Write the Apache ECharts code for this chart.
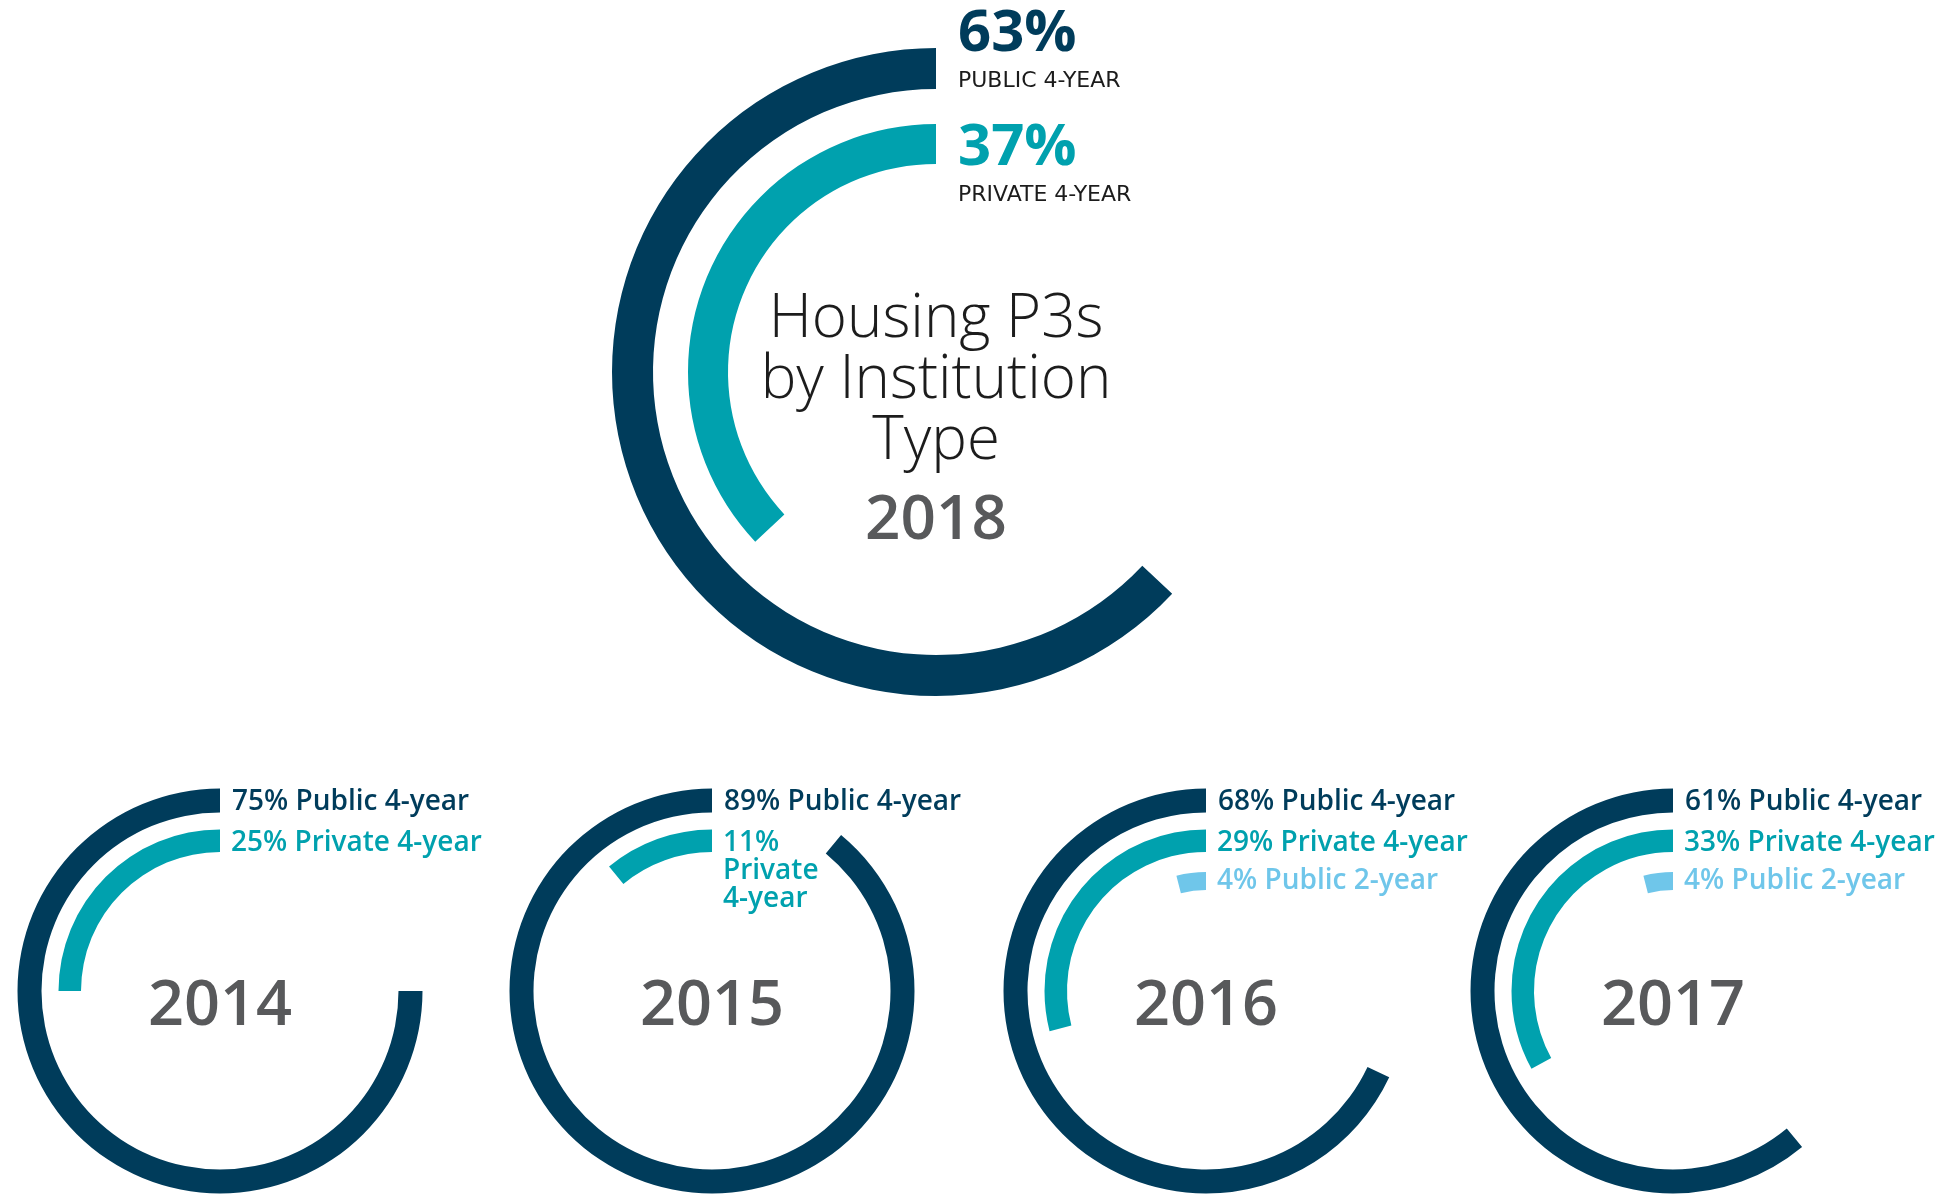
<!DOCTYPE html>
<html>
<head>
<meta charset="utf-8">
<script src="https://cdn.jsdelivr.net/npm/echarts@6/dist/echarts.min.js"></script>
<style>
  html, body { margin: 0; padding: 0; background: #ffffff; }
  #chart { width: 1954px; height: 1194px; }
</style>
</head>
<body>
<div id="chart"></div>
<script>
// ---- data ----
const years = ['2014', '2015', '2016', '2017'];
const public4Year = [75, 89, 68, 61];
const private4Year = [25, 11, 29, 33];
const public2Year = [null, null, 4, 4];
const typeNames = ['Public 4-year', 'Private 4-year', 'Public 2-year'];

const mainYear = '2018';
const mainPublic4Year = 63;
const mainPrivate4Year = 37;
const mainTypeNames = ['PUBLIC 4-YEAR', 'PRIVATE 4-YEAR'];
const mainTitleLines = ['Housing P3s', 'by Institution', 'Type'];

// ---- style / layout ----
const C_NAVY = '#003c5b';
const C_TEAL = '#00a1ae';
const C_LIGHT = '#6fc6ea';
const C_GRAY = '#58595b';
const C_TITLE = '#1c1c1c';
const FONT = '"Open Sans", Lato, "Noto Sans", sans-serif';
const FONT_CAPS = '"DejaVu Sans", "Open Sans", sans-serif';

const mainCenter = [936, 372];
const mainRadii = [[283, 324], [208, 248]];
const smallCenters = [[220, 991], [712, 991], [1206, 991], [1673, 991]];
const smallRadii = [[178.5, 202.5], [139, 161.5], [101, 119]];
const wrapPrivate = [false, true, false, false];

function ring(center, radius, value, color) {
  return {
    type: 'pie',
    center: center,
    radius: radius,
    startAngle: 90,
    clockwise: false,
    silent: true,
    animation: false,
    avoidLabelOverlap: false,
    label: { show: false },
    labelLine: { show: false },
    emphasis: { disabled: true },
    itemStyle: { borderWidth: 0 },
    data: [
      { value: value, itemStyle: { color: color } },
      { value: 100 - value, itemStyle: { color: 'rgba(0,0,0,0)' } }
    ]
  };
}

function txt(text, x, y, size, weight, color, align, family) {
  return {
    type: 'text',
    x: x, y: y,
    silent: true,
    style: {
      text: text,
      fontFamily: family || FONT,
      fontSize: size,
      fontWeight: weight,
      fill: color,
      align: align || 'left',
      verticalAlign: 'middle'
    }
  };
}

const series = [];
const graphics = [];

// main 2018 chart
series.push(ring(mainCenter, mainRadii[0], mainPublic4Year, C_NAVY));
series.push(ring(mainCenter, mainRadii[1], mainPrivate4Year, C_TEAL));
const mx = mainCenter[0] + 22;
graphics.push(txt(mainPublic4Year + '%', mx, 34, 58, 'bold', C_NAVY));
graphics.push(txt(mainTypeNames[0], mx, 81, 22, 'normal', '#1c1c1c', 'left', FONT_CAPS));
graphics.push(txt(mainPrivate4Year + '%', mx, 148, 58, 'bold', C_TEAL));
graphics.push(txt(mainTypeNames[1], mx, 195, 22, 'normal', '#1c1c1c', 'left', FONT_CAPS));
mainTitleLines.forEach(function (line, i) {
  graphics.push(txt(line, mainCenter[0], 320 + i * 61, 60, 300, C_TITLE, 'center'));
});
graphics.push(txt(mainYear, mainCenter[0], 521, 62, 600, C_GRAY, 'center'));

// small charts
years.forEach(function (yr, i) {
  const c = smallCenters[i];
  const vals = [public4Year[i], private4Year[i], public2Year[i]];
  const cols = [C_NAVY, C_TEAL, C_LIGHT];
  const labelY = [802, 843, 881];
  vals.forEach(function (v, k) {
    if (v == null) return;
    series.push(ring(c, smallRadii[k], v, cols[k]));
    const label = v + '% ' + typeNames[k];
    if (k === 1 && wrapPrivate[i]) {
      label.split(' ').forEach(function (part, j) {
        graphics.push(txt(part, c[0] + 11, labelY[1] + j * 28, 28, 600, cols[k]));
      });
    } else {
      graphics.push(txt(label, c[0] + (k === 0 ? 12 : 11), labelY[k], 28, 600, cols[k]));
    }
  });
  graphics.push(txt(yr, c[0], 1007, 63, 600, C_GRAY, 'center'));
});

const chart = echarts.init(document.getElementById('chart'), null, { renderer: 'canvas' });
chart.setOption({
  backgroundColor: '#ffffff',
  animation: false,
  series: series,
  graphic: graphics
});
</script>
</body>
</html>
